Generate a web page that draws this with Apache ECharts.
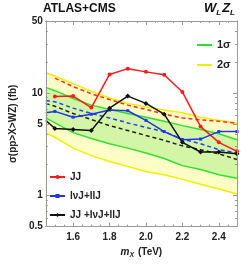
<!DOCTYPE html>
<html><head><meta charset="utf-8">
<script src="https://cdn.jsdelivr.net/npm/echarts@6/dist/echarts.min.js"></script>
<style>html,body{margin:0;padding:0;background:#fff}#c{width:249px;height:264px}</style>
</head><body><div id="c"></div>
<script>
// ---- data ----
const massBand = [1.45, 1.5, 1.6, 1.7, 1.8, 1.9, 2.0, 2.1, 2.2, 2.3, 2.4, 2.5];
const sigma2Up   = [15.7, 14.6, 12.3, 10.4, 8.9, 7.9, 7.3, 6.8, 6.4, 5.8, 5.4, 5.1];
const sigma1Up   = [11.3, 10.5, 8.8, 7.6, 6.9, 6.3, 5.8, 5.3, 4.8, 4.4, 4.0, 3.5];
const sigma1Down = [5.7, 5.1, 4.1, 3.6, 3.2, 2.9, 2.6, 2.3, 1.96, 1.8, 1.6, 1.48];
const sigma2Down = [4.1, 3.7, 2.9, 2.45, 2.15, 1.92, 1.72, 1.6, 1.44, 1.29, 1.16, 1.04];
const expBlack   = [7.9, 7.4, 6.3, 5.5, 4.8, 4.3, 3.85, 3.45, 3.05, 2.8, 2.55, 2.25];
const expBlue    = [8.4, 8.2, 7.1, 6.3, 5.7, 5.1, 4.6, 4.2, 3.55, 3.2, 2.8, 2.6];
const massRedExp = [1.5, 1.6, 1.7, 1.8, 1.9, 2.0, 2.1, 2.2, 2.3, 2.4, 2.5];
const expRed     = [13.9, 11.5, 9.8, 8.6, 7.6, 6.9, 6.2, 5.7, 5.45, 5.3, 5.05];
const massPts = [1.5, 1.6, 1.7, 1.8, 1.9, 2.0, 2.1, 2.2, 2.3, 2.4, 2.5];
const obsJJ    = [9.2, 9.3, 7.2, 15.1, 17.2, 16.0, 15.0, 10.2, 4.7, 3.3, 2.7];
const obsLep   = [6.6, 5.8, 6.2, 6.8, 6.7, 5.4, 4.2, 3.5, 3.55, 4.2, 4.2];
const obsComb  = [4.5, 4.4, 4.3, 7.1, 9.3, 7.9, 6.2, 3.3, 2.66, 2.66, 2.56];
const edgeMass = 1.45;
const obsLepEdge = 6.4;
const obsCombEdge = 5.4;
const yTickLabels = [0.5, 1, 5, 10, 50];
const yMinorTicks = [0.6, 0.7, 0.8, 0.9, 2, 3, 4, 6, 7, 8, 9, 20, 30, 40];
const xTickLabels = [1.6, 1.8, 2.0, 2.2, 2.4];
const xMinorTicks = [1.45, 1.5, 1.55, 1.65, 1.7, 1.75, 1.85, 1.9, 1.95, 2.05, 2.1, 2.15, 2.25, 2.3, 2.35, 2.45, 2.5];

// ---- build ----
const FONT = 'Liberation Sans';
const AX = '#999';
const zip = (xs, ys) => xs.map((x, i) => [x, ys[i]]);
const withEdge = (v0, xs, ys) => [{value: [edgeMass, v0], symbol: 'none'}].concat(zip(xs, ys));

function xAx(pos, ticks, len, labels) {
  return {
    type: 'value', min: 1.45, max: 2.5, position: pos, z: 10,
    axisLine: {show: true, onZero: false, lineStyle: {color: AX, width: 1}},
    axisTick: {show: true, inside: true, length: len, customValues: ticks, lineStyle: {color: AX}},
    axisLabel: labels ? {show: true, customValues: xTickLabels, formatter: v => v.toFixed(1),
      fontFamily: FONT, fontWeight: 'bold', fontSize: 10, color: '#222', margin: 6} : {show: false},
    splitLine: {show: false}
  };
}
function yAx(pos, ticks, len, labels) {
  return {
    type: 'log', min: 0.5, max: 50, position: pos, z: 10,
    axisLine: {show: true, onZero: false, lineStyle: {color: AX, width: 1}},
    axisTick: {show: true, inside: true, length: len, customValues: ticks, lineStyle: {color: AX}},
    axisLabel: labels ? {show: true, customValues: yTickLabels, formatter: v => String(v),
      fontFamily: FONT, fontWeight: 'bold', fontSize: 10, color: '#222', margin: 3} : {show: false},
    splitLine: {show: false}
  };
}

const xAxes = [xAx('bottom', xTickLabels, 4, true), xAx('bottom', xMinorTicks, 2, false),
               xAx('top', xTickLabels, 4, false), xAx('top', xMinorTicks, 2, false)];
xAxes[0].name = '{i|m}{s|X} (TeV)';
xAxes[0].nameLocation = 'middle';
xAxes[0].nameGap = 19;
xAxes[0].nameTextStyle = {fontFamily: FONT, fontWeight: 'bold', fontSize: 10, color: '#222',
  rich: {i: {fontFamily: FONT, fontStyle: 'italic', fontWeight: 'bold', fontSize: 10, color: '#222'},
         s: {fontFamily: FONT, fontStyle: 'italic', fontWeight: 'bold', fontSize: 7, color: '#222', verticalAlign: 'bottom', padding: [6, 1, 0, 0]}}};
const yAxes = [yAx('left', yTickLabels, 4, true), yAx('left', yMinorTicks, 2, false),
               yAx('right', yTickLabels, 4, false), yAx('right', yMinorTicks, 2, false)];
yAxes[0].name = 'σ(pp>X>WZ) (fb)';
yAxes[0].nameLocation = 'middle';
yAxes[0].nameGap = 23;
yAxes[0].nameTextStyle = {fontFamily: FONT, fontWeight: 'bold', fontSize: 10, color: '#222'};

const YEL = '#f2ee00', GRN = '#2fe02f', YFILL = '#fdfdc6', GFILL = '#d3f5a6';
function band(name, ys, color, fill) {
  return {name, type: 'line', data: zip(massBand, ys), symbol: 'none', smooth: false,
    lineStyle: {color, width: 1.5}, itemStyle: {color},
    areaStyle: {color: fill, opacity: 1, origin: 'start'}, z: 1};
}
function dashed(name, xs, ys, color) {
  return {name, type: 'line', data: zip(xs, ys), symbol: 'none',
    lineStyle: {color, width: 1.5, type: [4, 3]}, itemStyle: {color}, z: 3};
}
const series = [
  band('2σ', sigma2Up, YEL, YFILL),
  band('1σ', sigma1Up, GRN, GFILL),
  band('1σ', sigma1Down, GRN, YFILL),
  band('2σ', sigma2Down, YEL, '#ffffff'),
  dashed('expRed', massRedExp, expRed, '#ff2a2a'),
  dashed('expBlue', massBand, expBlue, '#2a3cf0'),
  dashed('expBlack', massBand, expBlack, '#222'),
  {name: 'JJ', type: 'line', data: zip(massPts, obsJJ), symbol: 'circle', symbolSize: 4,
   lineStyle: {color: '#ff1a1a', width: 1.5}, itemStyle: {color: '#ff1a1a'}, z: 4},
  {name: 'lνJ+llJ', type: 'line', data: withEdge(obsLepEdge, massPts, obsLep), symbol: 'rect', symbolSize: 3,
   lineStyle: {color: '#1f35f0', width: 1.5}, itemStyle: {color: '#1f35f0'}, z: 4},
  {name: 'JJ +lνJ+llJ', type: 'line', data: withEdge(obsCombEdge, massPts, obsComb), symbol: 'diamond', symbolSize: 5,
   lineStyle: {color: '#111', width: 1.5}, itemStyle: {color: '#111'}, z: 5}
];

const legText = {fontFamily: FONT, fontWeight: 'bold', fontSize: 10, color: '#222', height: 12, lineHeight: 12};
const option = {
  animation: false,
  backgroundColor: '#fff',
  grid: {left: 36, right: 12, top: 21, bottom: 32, containLabel: false},
  xAxis: xAxes, yAxis: yAxes,
  series,
  legend: [
    {data: ['1σ', '2σ'], orient: 'vertical', left: 192, top: 34, itemGap: 8, itemWidth: 15, itemHeight: 2,
     icon: 'rect', textStyle: Object.assign({}, legText, {fontSize: 11}), selectedMode: false},
    {data: ['JJ', 'lνJ+llJ', 'JJ +lνJ+llJ'], orient: 'vertical', left: 44, top: 166, itemGap: 7,
     itemWidth: 15, itemHeight: 5, textStyle: legText, selectedMode: false}
  ],
  graphic: [
    {type: 'text', left: 43, top: 3, style: {text: 'ATLAS+CMS', font: 'bold 12px "Liberation Sans"', fill: '#111'}},
    {type: 'text', left: 204, top: 2, style: {text: '{w|W}{s|L}{w|Z}{s|L}', rich: {
      w: {font: 'italic bold 13px "Liberation Sans"', fill: '#111'},
      s: {font: 'italic bold 8px "Liberation Sans"', fill: '#111', verticalAlign: 'bottom', padding: [8, 1, 0, 0]}}}}
  ]
};
const chart = echarts.init(document.getElementById('c'), null, {renderer: 'canvas'});
chart.setOption(option);
</script></body></html>
